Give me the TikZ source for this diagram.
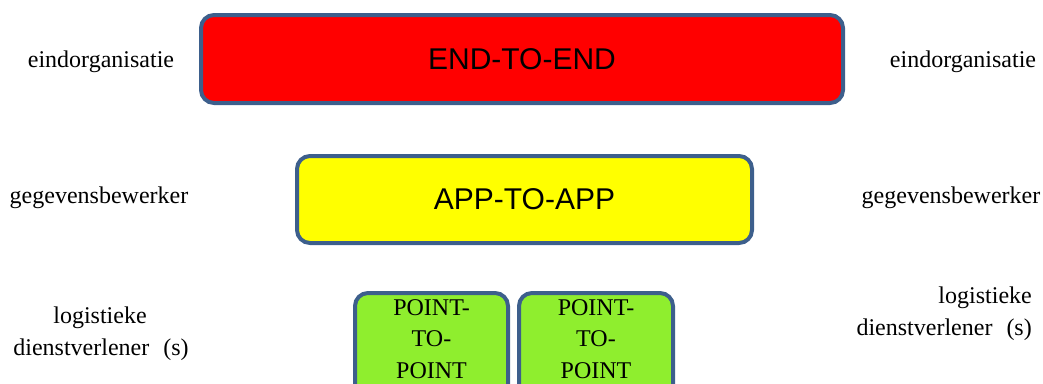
\documentclass[tikz,border=0pt]{standalone}
\usepackage{fontspec}
\setmainfont{Liberation Serif}
\newfontfamily\boxsans{Liberation Sans}
\definecolor{edgeblue}{HTML}{3D5F8C}
\definecolor{redfill}{HTML}{FF0000}
\definecolor{yellowfill}{HTML}{FFFF00}
\definecolor{greenfill}{HTML}{8FEE2E}
\begin{document}
\begin{tikzpicture}[x=1pt,y=-1pt,
  band/.style={draw=edgeblue,line width=4pt,rounded corners=13pt,inner sep=0pt},
  lbl/.style={font=\fontsize{24}{31}\selectfont,anchor=base,inner sep=0pt},
  boxtext/.style={font=\boxsans\fontsize{30}{36}\selectfont,inner sep=0pt},
  ptext/.style={font=\fontsize{24}{31.5}\selectfont,align=center,anchor=north,inner sep=0pt}]
\useasboundingbox (0,0) rectangle (1043,383);
\clip (0,0) rectangle (1043,383);
% bands
\node[band,fill=redfill,minimum width=642pt,minimum height=88pt] (e2e) at (522,59) {};
\node[boxtext] (e2etxt) at (e2e.center) {END-TO-END};
\node[band,fill=yellowfill,minimum width=455pt,minimum height=87pt] (a2a) at (524.5,199.5) {};
\node[boxtext] (a2atxt) at (a2a.center) {APP-TO-APP};
\node[band,fill=greenfill,minimum width=153pt,minimum height=130pt] (p1) at (431.5,358) {};
\node[band,fill=greenfill,minimum width=154pt,minimum height=130pt] (p2) at (596,358) {};
\node[ptext] (p1txt) at (431.5,299) {POINT-\\TO-\\POINT};
\node[ptext] (p2txt) at (596,299) {POINT-\\TO-\\POINT};
% labels
\node[lbl] (l1) at (101,67) {eindorganisatie};
\node[lbl] (r1) at (963,67) {eindorganisatie};
\node[lbl] (l2) at (99,203) {gegevensbewerker};
\node[lbl] (r2) at (951,203) {gegevensbewerker};
\node[lbl] (l3a) at (100,323) {logistieke};
\node[lbl] (l3b) at (101,355) {dienstverlener\hspace{14pt}(s)};
\node[lbl,anchor=base east] (r3a) at (1032,303) {logistieke};
\node[lbl,anchor=base east] (r3b) at (1032,335) {dienstverlener\hspace{14pt}(s)};
\end{tikzpicture}
\end{document}
